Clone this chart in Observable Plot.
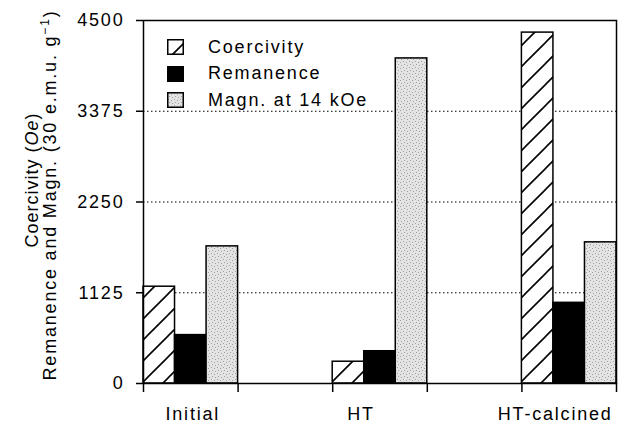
<!DOCTYPE html>
<html>
<head>
<meta charset="utf-8">
<script src="https://cdn.jsdelivr.net/npm/d3@7"></script>
<script src="https://cdn.jsdelivr.net/npm/@observablehq/plot@0.6"></script>
<style>
  html, body { margin: 0; padding: 0; background: #fff; }
  #wrap { position: relative; width: 626px; height: 426px; font-family: "Liberation Sans", Arial, sans-serif; }
  #legend { position: absolute; left: 167px; top: 34px; font-size: 18px; letter-spacing: 1.8px; color: #000; }
  #legend .row { display: flex; align-items: center; height: 26.5px; }
  #legend svg { margin-right: 24px; }
</style>
</head>
<body>
<div id="wrap"></div>
<script>
const groups = ["Initial", "HT", "HT-calcined"];
const series = ["Coercivity", "Remanence", "Magn. at 14 kOe"];
const coercivity = [1200, 270, 4350];
const remanence = [600, 400, 1000];
const magn = [1700, 4030, 1750];
const yTicks = [0, 1125, 2250, 3375, 4500];
const gridValues = [1125, 2250, 3375];

const seriesValues = [coercivity, remanence, magn];
const fills = ["url(#hatch)", "#000", "url(#stipple)"];
const labelShift = [2, -19, -14];

const table = [];
groups.forEach((g, gi) => {
  series.forEach((s, si) => {
    table.push({group: g, series: s, value: seriesValues[si][gi], gi, si});
  });
});

// group i occupies [2i, 2i+1] on the x scale; each series a third of it
const x1 = d => d.gi * 2 + d.si / 3;
const x2 = d => d.gi * 2 + (d.si + 1) / 3;
const edges = groups.flatMap((g, i) => [i * 2, i * 2 + 1]);

const chart = Plot.plot({
  width: 626,
  height: 426,
  marginLeft: 143,
  marginRight: 10,
  marginTop: 20,
  marginBottom: 43,
  style: {fontFamily: "Liberation Sans, Arial, sans-serif", fontSize: "18px", letterSpacing: "1.8px", color: "#000", background: "#fff"},
  x: {domain: [0, 5], axis: null},
  y: {domain: [0, 4500], axis: null},
  color: {type: "ordinal", domain: series, range: fills},
  marks: [
    Plot.ruleY(gridValues, {stroke: "#000", strokeWidth: 1, strokeDasharray: "1.5,2.5"}),
    Plot.rectY(table, {x1, x2, y: "value", fill: "series", stroke: "#000", strokeWidth: 1.5}),
    Plot.frame({stroke: "#000", strokeWidth: 1.5}),
    Plot.axisY({ticks: yTicks, tickSize: 7, tickPadding: 12, tickFormat: d => String(d), label: null, strokeWidth: 1.5}),
    Plot.axisX({ticks: edges, tickSize: 9, tickFormat: () => "", label: null, strokeWidth: 1.5}),
    ...groups.map((g, i) => Plot.axisX({ticks: [i * 2 + 0.5], tickSize: 0, tickPadding: 24, dx: labelShift[i], tickFormat: () => g, label: null}))
  ]
});

const svg = d3.select(chart);
const defs = svg.insert("defs", ":first-child");
const hatch = defs.append("pattern").attr("id", "hatch").attr("patternUnits", "userSpaceOnUse")
  .attr("width", 21).attr("height", 21);
hatch.append("rect").attr("width", 21).attr("height", 21).attr("fill", "#fff");
hatch.append("path").attr("d", "M0,21L21,0M-3,3L3,-3M18,24L24,18").attr("stroke", "#000").attr("stroke-width", 1.6);
const stip = defs.append("pattern").attr("id", "stipple").attr("patternUnits", "userSpaceOnUse")
  .attr("width", 6).attr("height", 6);
stip.append("rect").attr("width", 6).attr("height", 6).attr("fill", "#e3e3e3");
[[1, 1], [4, 2], [2, 4], [5, 5]].forEach(([a, b]) =>
  stip.append("rect").attr("x", a).attr("y", b).attr("width", 1).attr("height", 1).attr("fill", "#a0a0a0"));

// y-axis title (two lines)
const t1 = svg.append("text")
  .attr("transform", "translate(38,180) rotate(-90)")
  .attr("text-anchor", "middle").attr("font-size", 18).attr("letter-spacing", "1px").attr("fill", "#000");
t1.append("tspan").text("Coercivity (");
t1.append("tspan").attr("font-style", "italic").text("Oe");
t1.append("tspan").text(")");
const t2 = svg.append("text")
  .attr("transform", "translate(56,195) rotate(-90)")
  .attr("text-anchor", "middle").attr("font-size", 18).attr("fill", "#000");
t2.append("tspan").text("Remanence and Magn. (30 e.m.u. g");
t2.append("tspan").attr("font-size", 12).attr("dy", -7).text("−1");
t2.append("tspan").attr("dy", 7).text(")");

const wrap = document.getElementById("wrap");
wrap.appendChild(chart);

// legend
const legend = d3.select(wrap).append("div").attr("id", "legend");
series.forEach((s, i) => {
  const row = legend.append("div").attr("class", "row");
  const sw = row.append("svg").attr("width", 17).attr("height", 16);
  sw.append("rect").attr("x", 0.75).attr("y", 0.75).attr("width", 15.5).attr("height", 14.5)
    .attr("fill", fills[i]).attr("stroke", "#000").attr("stroke-width", 1.5);
  row.append("span").text(s);
});
</script>
</body>
</html>
